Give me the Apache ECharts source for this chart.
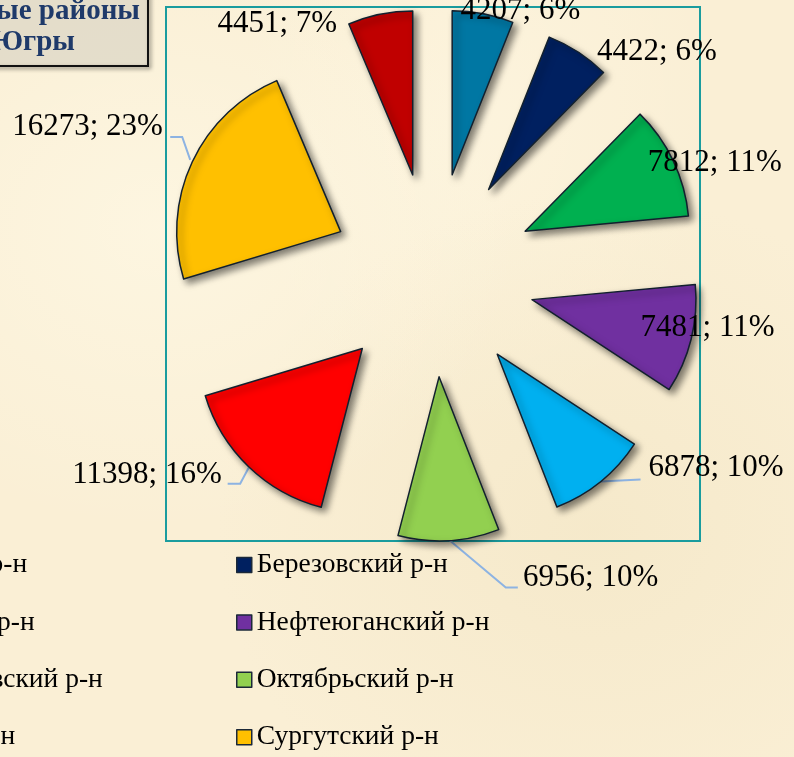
<!DOCTYPE html>
<html>
<head>
<meta charset="utf-8">
<script src="https://cdn.jsdelivr.net/npm/echarts@6/dist/echarts.min.js"></script>
<style>
html,body{margin:0;padding:0;}
body{width:794px;height:757px;overflow:hidden;
background-color:#faefd5;
background-image:
 radial-gradient(ellipse at 20% 30%, rgba(255,250,232,0.6), rgba(255,250,232,0) 40%),
 radial-gradient(ellipse at 75% 70%, rgba(240,226,190,0.45), rgba(240,226,190,0) 45%),
 radial-gradient(ellipse at 60% 15%, rgba(255,248,228,0.5), rgba(255,248,228,0) 35%);}
#chart{width:794px;height:757px;}
</style>
</head>
<body>
<div id="chart"></div>
<script>
const categories = ['Белоярский р-н','Березовский р-н','Кондинский р-н','Нефтеюганский р-н','Нижневартовский р-н','Октябрьский р-н','Советский р-н','Сургутский р-н','Ханты-Мансийский р-н'];
const values = [4207, 4422, 7812, 7481, 6878, 6956, 11398, 16273, 4451];
const percentLabels = ['6%', '6%', '11%', '11%', '10%', '10%', '16%', '23%', '7%'];
const titleLines = ['Муниципальные районы', 'ХМАО-Югры'];

const colors = ['#0077a3','#002060','#00b050','#7030a0','#00b0f0','#92d050','#ff0000','#ffc000','#c00000'];
// label placement styles: radial length, horizontal length, leader line shape (relative to arc point)
const labelStyles = [
  {len: 2.9, len2: -28},
  {len: 0, len2: 14},
  {len: -4.9, len2: -26},
  {len: -47, len2: -10},
  {len: -17.6, len2: 54, line: [0, 0, 40, -2]},
  {len: 37.6, len2: 67, line: [1, 0, 57, 47, 69]},
  {len: 11.4, len2: 14, line: [0, 1, -8.5, 17, -21]},
  {len: 81.5, len2: -49.5, line: [-2, -2, -10, -25, -22]},
  {len: -9.8, len2: 40}
];

const FONT = '"Liberation Serif", "Times New Roman", serif';
const LEGEND_FS = 27.5;
const chart = echarts.init(document.getElementById('chart'), null, {renderer: 'canvas'});

const pieData = values.map(function (v, i) {
  const s = labelStyles[i];
  return {
    name: categories[i],
    value: v,
    selected: true,
    itemStyle: {color: colors[i]},
    labelLine: {show: !!s.line, length: s.len, length2: s.len2}
  };
});

// measure to position left legend column
const cv = document.createElement('canvas').getContext('2d');
cv.font = LEGEND_FS + 'px ' + FONT;
const longest = cv.measureText(categories[4]).width;
const leftLegendX = 102 - longest - 5 - 15;

const legendCommon = {
  orient: 'vertical',
  icon: 'rect',
  itemWidth: 15,
  itemHeight: 15,
  itemGap: 27.4,
  padding: 0,
  height: 400,
  selectedMode: false,
  itemStyle: {borderColor: '#1b2838', borderWidth: 1.5, shadowBlur: 0, shadowOffsetX: 0, shadowOffsetY: 0},
  textStyle: {fontFamily: FONT, fontSize: LEGEND_FS, color: '#000', lineHeight: 30}
};

chart.setOption({
  animation: false,
  backgroundColor: 'transparent',
  color: colors,
  graphic: [
    {type: 'rect', z: 0, shape: {x: 166, y: 7, width: 534, height: 534}, style: {fill: 'none', stroke: '#1a9c9e', lineWidth: 2}},
    {type: 'rect', z: 5, shape: {x: -10, y: -10, width: 158, height: 76}, style: {fill: 'rgba(255,251,238,0.3)', stroke: '#111', lineWidth: 2, shadowBlur: 4, shadowOffsetX: 2, shadowOffsetY: 2, shadowColor: 'rgba(0,0,0,0.45)'}},
    {type: 'text', z: 6, style: {text: titleLines[0], x: 140, y: 12, align: 'right', verticalAlign: 'middle', font: 'bold 29px ' + FONT, fill: '#1f3a6a'}},
    {type: 'text', z: 6, style: {text: titleLines[1], x: 75, y: 43, align: 'right', verticalAlign: 'middle', font: 'bold 29px ' + FONT, fill: '#1f3a6a'}}
  ],
  legend: [
    Object.assign({}, legendCommon, {left: 236, top: 550, data: [categories[1], categories[3], categories[5], categories[7]]}),
    Object.assign({}, legendCommon, {left: leftLegendX, top: 550, data: [categories[0], categories[2], categories[4], categories[6], categories[8]]})
  ],
  series: [{
    type: 'pie',
    center: [433, 275],
    radius: 164,
    startAngle: 90,
    clockwise: true,
    selectedMode: 'multiple',
    selectedOffset: 102,
    avoidLabelOverlap: false,
    emphasis: {disabled: true},
    itemStyle: {borderColor: '#12202e', borderWidth: 1.5, shadowBlur: 7, shadowOffsetX: 4, shadowOffsetY: 4, shadowColor: 'rgba(0,0,0,0.5)'},
    select: {itemStyle: {borderColor: '#12202e', borderWidth: 1.5}},
    label: {
      show: true,
      position: 'outside',
      distanceToLabelLine: 5,
      fontFamily: FONT,
      fontSize: 31,
      color: '#000',
      formatter: function (p) { return p.value + '; ' + percentLabels[p.dataIndex]; }
    },
    labelLine: {show: true, lineStyle: {color: '#8db3e2', width: 2}, smooth: false},
    labelLayout: function (params) {
      const s = labelStyles[params.dataIndex];
      if (!s || !s.line || !params.labelLinePoints) return {};
      const p0 = params.labelLinePoints[0];
      const l = s.line;
      if (l.length === 4) {
        return {labelLinePoints: [[p0[0] + l[0], p0[1] + l[1]], [p0[0] + (l[0] + l[2]) / 2, p0[1] + (l[1] + l[3]) / 2], [p0[0] + l[2], p0[1] + l[3]]]};
      }
      return {labelLinePoints: [[p0[0] + l[0], p0[1] + l[1]], [p0[0] + l[2], p0[1] + l[3]], [p0[0] + l[4], p0[1] + l[3]]]};
    },
    data: pieData
  }]
});
</script>
</body>
</html>
